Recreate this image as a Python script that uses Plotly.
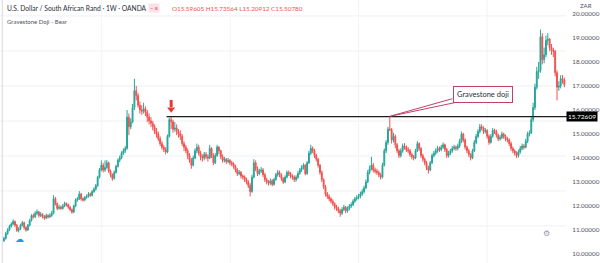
import plotly.graph_objects as go

# Weekly USD/ZAR candles
close_ = [10.65,10.85,11.0,11.15,11.25,11.35,11.2,10.98,11.05,11.2,
11.3,11.1,11.0,11.2,11.4,11.6,11.55,11.7,11.75,11.6,
11.65,11.55,11.5,11.6,11.55,11.6,11.7,12.3,12.1,11.9,
11.95,11.9,12.0,12.1,12.05,11.95,11.85,11.75,12.0,12.25,
12.3,12.5,12.3,12.25,12.35,12.4,12.5,12.45,12.6,12.7,
12.85,13.2,13.5,13.7,13.5,13.6,13.8,13.45,13.3,13.15,
13.4,13.65,13.9,14.0,14.2,14.3,14.4,15.7,15.3,15.5,
16.1,16.8,16.6,16.2,16.0,15.95,16.05,15.9,15.7,15.55,
15.45,15.3,15.1,15.0,14.8,14.6,14.45,14.35,14.25,14.9,
15.6,15.51,15.2,15.25,15.1,15.0,14.9,14.6,14.45,14.3,
14.1,13.9,13.7,14.0,14.3,14.45,14.2,14.05,14.0,14.15,
14.05,14.0,14.4,14.1,13.8,14.1,14.45,14.3,14.05,13.9,
13.95,13.85,13.9,13.8,13.75,13.65,13.5,13.35,13.4,13.25,
13.2,13.1,13.0,12.85,12.6,13.2,13.8,13.55,13.35,13.45,
13.5,13.3,13.1,13.0,12.95,13.05,12.9,13.1,13.3,13.4,
13.3,13.15,13.0,13.2,13.4,13.35,13.25,13.2,13.1,13.2,
13.35,13.5,13.6,13.7,13.35,13.8,14.2,14.4,14.3,14.1,
13.95,13.7,13.4,13.1,12.8,12.5,12.4,12.3,12.2,12.1,
11.95,11.9,11.8,11.7,11.85,11.95,11.8,11.9,12.0,12.05,
12.2,12.3,12.35,12.4,12.5,12.6,12.75,13.0,13.4,13.55,
13.7,13.5,13.45,13.4,13.3,13.2,13.7,14.3,14.65,15.2,
15.18,14.75,14.9,14.55,14.3,14.1,14.3,14.5,14.45,14.35,
14.3,14.15,14.05,14.0,14.3,14.6,14.4,14.1,13.95,13.8,
13.6,13.5,13.8,14.1,14.2,14.3,14.4,14.35,14.45,14.55,
14.35,14.1,14.2,14.3,14.4,14.45,14.4,14.5,14.7,15.0,
14.75,14.45,14.3,14.15,14.0,14.3,14.65,14.9,15.1,15.3,
15.25,15.1,15.15,14.9,14.65,14.9,15.15,15.1,14.95,14.8,
14.85,15.0,14.9,14.8,14.75,14.6,14.4,14.3,14.2,14.1,
14.25,14.4,14.5,14.45,14.7,15.0,15.05,15.6,16.1,16.95,
17.6,17.65,19.05,18.1,18.3,18.9,18.95,18.6,18.5,18.45,
17.55,16.95,17.0,17.3,17.25,17.05]

open_ = [10.55,10.65,10.85,11.0,11.15,11.25,11.35,11.2,10.98,11.05,
11.2,11.3,11.1,11.0,11.2,11.4,11.6,11.55,11.7,11.75,
11.6,11.65,11.55,11.5,11.6,11.55,11.6,11.7,12.3,12.1,
11.9,11.95,11.9,12.0,12.1,12.05,11.95,11.85,11.75,12.0,
12.25,12.3,12.5,12.3,12.25,12.35,12.4,12.5,12.45,12.6,
12.7,12.85,13.2,13.5,13.7,13.5,13.6,13.8,13.45,13.3,
13.15,13.4,13.65,13.9,14.0,14.2,14.3,14.4,15.7,15.3,
15.5,16.1,16.8,16.6,16.2,16.0,15.95,16.05,15.9,15.7,
15.55,15.45,15.3,15.1,15.0,14.8,14.6,14.45,14.35,14.25,
14.9,15.59605,15.51,15.2,15.25,15.1,15.0,14.9,14.6,14.45,
14.3,14.1,13.9,13.7,14.0,14.3,14.45,14.2,14.05,14.0,
14.15,14.05,14.0,14.4,14.1,13.8,14.1,14.45,14.3,14.05,
13.9,13.95,13.85,13.9,13.8,13.75,13.65,13.5,13.35,13.4,
13.25,13.2,13.1,13.0,12.85,12.6,13.2,13.8,13.55,13.35,
13.45,13.5,13.3,13.1,13.0,12.95,13.05,12.9,13.1,13.3,
13.4,13.3,13.15,13.0,13.2,13.4,13.35,13.25,13.2,13.1,
13.2,13.35,13.5,13.6,13.7,13.35,13.8,14.2,14.4,14.3,
14.1,13.95,13.7,13.4,13.1,12.8,12.5,12.4,12.3,12.2,
12.1,11.95,11.9,11.8,11.7,11.85,11.95,11.8,11.9,12.0,
12.05,12.2,12.3,12.35,12.4,12.5,12.6,12.75,13.0,13.4,
13.55,13.7,13.5,13.45,13.4,13.3,13.2,13.7,14.3,14.65,
15.2,15.18,14.75,14.9,14.55,14.3,14.1,14.3,14.5,14.45,
14.35,14.3,14.15,14.05,14.0,14.3,14.6,14.4,14.1,13.95,
13.8,13.6,13.5,13.8,14.1,14.2,14.3,14.4,14.35,14.45,
14.55,14.35,14.1,14.2,14.3,14.4,14.45,14.4,14.5,14.7,
15.0,14.75,14.45,14.3,14.15,14.0,14.3,14.65,14.9,15.1,
15.3,15.25,15.1,15.15,14.9,14.65,14.9,15.15,15.1,14.95,
14.8,14.85,15.0,14.9,14.8,14.75,14.6,14.4,14.3,14.2,
14.1,14.25,14.4,14.5,14.45,14.7,15.0,15.05,15.6,16.1,
16.95,17.6,17.65,19.05,18.1,18.3,18.9,18.95,18.6,18.5,
18.45,17.55,16.95,17.0,17.3,17.25]

high_ = [10.72,10.92,11.08,11.22,11.32,11.45,11.4,11.25,11.12,11.26,
11.38,11.35,11.15,11.25,11.46,11.66,11.68,11.78,11.86,11.8,
11.75,11.7,11.62,11.68,11.66,11.7,11.8,12.45,12.38,12.15,
12.05,12.02,12.08,12.18,12.15,12.1,12.0,11.9,12.06,12.32,
12.38,12.62,12.55,12.36,12.42,12.48,12.58,12.56,12.66,12.78,
12.92,13.26,13.58,13.9,13.8,13.9,13.92,13.85,13.52,13.36,
13.48,13.72,13.98,14.1,14.28,14.4,14.5,16.0,15.85,15.65,
16.25,17.3,17.0,16.7,16.35,16.2,16.3,16.15,16.0,15.85,
15.7,15.55,15.4,15.25,15.1,14.9,14.7,14.55,14.45,14.98,
15.68,15.73564,15.6,15.5,15.4,15.2,15.15,15.0,14.7,14.55,
14.4,14.2,14.0,14.1,14.4,14.6,14.55,14.3,14.15,14.25,
14.25,14.15,14.55,14.45,14.2,14.2,14.55,14.5,14.35,14.15,
14.05,14.0,14.0,13.95,13.88,13.82,13.72,13.58,13.5,13.46,
13.32,13.28,13.18,13.08,12.95,13.3,13.95,13.9,13.65,13.55,
13.62,13.58,13.38,13.18,13.08,13.15,13.12,13.18,13.38,13.5,
13.48,13.36,13.2,13.28,13.48,13.48,13.42,13.32,13.28,13.28,
13.45,13.58,13.7,13.78,13.75,13.88,14.3,14.55,14.48,14.38,
14.18,14.0,13.75,13.48,13.15,12.88,12.58,12.48,12.36,12.28,
12.15,12.05,11.98,11.88,11.95,12.05,12.0,11.98,12.08,12.15,
12.28,12.38,12.45,12.5,12.6,12.7,12.85,13.1,13.5,13.68,
14.05,13.8,13.6,13.55,13.48,13.38,13.8,14.4,14.75,15.3,
15.736,15.25,15.05,14.98,14.62,14.38,14.4,14.6,14.62,14.52,
14.45,14.38,14.22,14.12,14.38,14.7,14.65,14.45,14.18,14.02,
13.88,13.68,13.88,14.18,14.3,14.4,14.5,14.48,14.55,14.65,
14.6,14.42,14.3,14.38,14.5,14.55,14.52,14.6,14.8,15.1,
15.05,14.82,14.52,14.38,14.2,14.38,14.75,15.0,15.2,15.42,
15.4,15.32,15.25,15.2,14.98,15.0,15.25,15.22,15.18,15.02,
14.95,15.1,15.05,14.98,14.88,14.82,14.68,14.48,14.36,14.28,
14.35,14.5,14.6,14.58,14.8,15.1,15.15,15.75,16.3,17.1,
17.8,18.0,19.35,19.2,18.6,19.1,19.2,19.0,18.75,18.6,
18.5,17.65,17.2,17.45,17.45,17.35]

low_ = [10.5,10.6,10.8,10.95,11.1,11.2,11.12,10.92,10.9,11.0,
11.15,11.02,10.93,10.96,11.15,11.35,11.48,11.5,11.62,11.52,
11.54,11.48,11.42,11.45,11.48,11.5,11.55,11.65,12.02,11.82,
11.85,11.84,11.85,11.95,11.98,11.88,11.78,11.68,11.7,11.95,
12.18,12.25,12.22,12.18,12.2,12.3,12.35,12.38,12.4,12.55,
12.65,12.8,13.15,13.45,13.4,13.42,13.55,13.38,13.2,13.05,
13.1,13.35,13.6,13.82,13.95,14.12,14.2,14.35,14.95,15.2,
15.45,16.0,16.4,16.1,15.85,15.8,15.85,15.75,15.5,15.4,
15.3,15.15,15.0,14.85,14.7,14.5,14.35,14.25,14.15,14.2,
14.85,15.20912,15.05,15.1,14.95,14.85,14.75,14.5,14.3,14.2,
13.95,13.8,13.55,13.65,13.95,14.2,14.1,13.9,13.85,13.9,
13.95,13.85,13.95,14.0,13.7,13.75,14.05,14.15,13.95,13.8,
13.82,13.75,13.78,13.7,13.65,13.55,13.4,13.25,13.28,13.15,
13.1,13.0,12.9,12.75,12.4,12.55,13.15,13.45,13.25,13.28,
13.38,13.2,13.0,12.9,12.85,12.88,12.82,12.85,13.05,13.22,
13.2,13.05,12.92,12.95,13.15,13.25,13.15,13.1,13.0,13.02,
13.12,13.3,13.42,13.52,13.28,13.3,13.75,14.12,14.2,14.0,
13.85,13.6,13.3,13.0,12.7,12.4,12.3,12.2,12.1,12.0,
11.85,11.8,11.7,11.55,11.62,11.78,11.7,11.72,11.82,11.92,
12.0,12.12,12.22,12.28,12.32,12.42,12.52,12.7,12.95,13.32,
13.48,13.4,13.35,13.3,13.2,13.1,13.15,13.65,14.2,14.55,
15.12,14.6,14.65,14.4,14.2,14.0,14.02,14.22,14.35,14.25,
14.2,14.05,13.95,13.9,13.95,14.25,14.3,14.0,13.85,13.7,
13.5,13.35,13.45,13.75,14.02,14.12,14.22,14.25,14.28,14.38,
14.25,14.0,14.02,14.12,14.22,14.32,14.3,14.32,14.42,14.62,
14.65,14.35,14.2,14.05,13.9,13.95,14.25,14.58,14.82,15.02,
15.15,15.0,15.02,14.8,14.55,14.6,14.85,15.0,14.85,14.7,
14.72,14.78,14.8,14.7,14.65,14.5,14.3,14.2,14.1,14.0,
14.02,14.18,14.32,14.35,14.4,14.62,14.9,15.0,15.5,16.0,
16.85,17.3,17.55,17.9,17.95,18.2,18.7,18.45,18.3,18.2,
17.4,16.4,16.8,16.9,17.1,16.95]

weeks = list(range(len(close_)))

y_ticks = [10, 11, 12, 13, 14, 15, 16, 17, 18, 19, 20]
level_price = 15.72609
level_start = 88.5
doji_week = 210
arrow_week = 91

UP = "#26a69a"
DOWN = "#ef5350"
ARROW = "#e53935"

fig = go.Figure()
fig.add_trace(go.Candlestick(
    x=weeks, open=open_, high=high_, low=low_, close=close_,
    increasing=dict(line=dict(color=UP, width=1), fillcolor=UP),
    decreasing=dict(line=dict(color=DOWN, width=1), fillcolor=DOWN),
    whiskerwidth=0, showlegend=False, hoverinfo="skip"))

# arrow head marker above the marked candle
fig.add_trace(go.Scatter(x=[arrow_week], y=[16.03], mode="markers",
                         marker=dict(symbol="triangle-down", size=7, color=ARROW),
                         showlegend=False, hoverinfo="skip"))

shapes = []
# faint grid
for gy in [11.17, 12.63, 14.08, 15.54, 17.0, 18.46, 19.92]:
    shapes.append(dict(type="line", xref="paper", x0=0, x1=1, yref="y", y0=gy, y1=gy,
                       line=dict(color="#eef0f4", width=1), layer="below"))
for gx in [53.2, 123.1, 193.0, 263.0]:
    shapes.append(dict(type="line", xref="x", x0=gx, x1=gx, yref="paper", y0=0, y1=1,
                       line=dict(color="#f1f3f6", width=1), layer="below"))
# left border
shapes.append(dict(type="line", xref="paper", x0=0.004, x1=0.004, yref="paper", y0=0, y1=1,
                   line=dict(color="#d6d8dd", width=1)))
# arrow stem
shapes.append(dict(type="line", xref="x", yref="y", x0=arrow_week, x1=arrow_week, y0=16.12, y1=16.42,
                   line=dict(color=ARROW, width=3)))
# horizontal level line
shapes.append(dict(type="line", xref="x", x0=level_start, yref="y", y0=level_price,
                   x1=305.9, y1=level_price, line=dict(color="#1e1e1e", width=1.3)))
shapes.append(dict(type="line", xref="paper", x0=1, x1=1.05, yref="y", y0=level_price, y1=level_price,
                   line=dict(color="#1e1e1e", width=1.3)))
# callout lines
CALL = "#c2416b"
shapes.append(dict(type="line", xref="x", yref="y", x0=doji_week, y0=15.736, x1=244.0, y1=16.47,
                   line=dict(color=CALL, width=1)))
shapes.append(dict(type="line", xref="x", yref="y", x0=doji_week, y0=15.736, x1=247.5, y1=16.34,
                   line=dict(color=CALL, width=1)))

annotations = [
    dict(xref="paper", yref="paper", x=0.009, y=1 - 8/263, xanchor="left", yanchor="middle",
         text="U.S. Dollar / South African Rand · 1W · OANDA", showarrow=False,
         font=dict(size=6.7, color="#2a2e39", family="Lato")),
    dict(xref="paper", yref="paper", x=150/573, y=1 - 8/263, xanchor="left", yanchor="middle",
         text="− ≡", showarrow=False, bgcolor="#fbe0e6",
         font=dict(size=5.5, color="#e0405e", family="Lato")),
    dict(xref="paper", yref="paper", x=172/573, y=1 - 8/263, xanchor="left", yanchor="middle",
         text="O15.59605 H15.73564 L15.20912 C15.50780", showarrow=False,
         font=dict(size=6.3, color=DOWN, family="Lato")),
    dict(xref="paper", yref="paper", x=0.009, y=1 - 21/263, xanchor="left", yanchor="middle",
         text="Gravestone Doji - Bear", showarrow=False,
         font=dict(size=6, color="#50535e", family="Lato")),
    dict(xref="paper", yref="paper", x=1.022, y=1 - 6/263, xanchor="left", yanchor="middle",
         text="ZAR", showarrow=False, font=dict(size=6, color="#50535e", family="Lato")),
    dict(xref="paper", yref="y", x=1.0, y=level_price, xanchor="left", yanchor="middle",
         text="15.72609", showarrow=False, bgcolor="#000000", borderpad=1,
         font=dict(size=6.5, color="#ffffff", family="Lato")),
    dict(xref="x", yref="y", x=260.5, y=16.63, text="Gravestone doji", showarrow=False,
         bgcolor="#ffffff", bordercolor=CALL, borderwidth=1, borderpad=3,
         font=dict(size=7.5, color="#2a2e39", family="Lato")),
    dict(xref="paper", yref="paper", x=13/573, y=1 - 247/263, showarrow=False, text="☁",
         font=dict(size=9, color="#2196f3")),
    dict(xref="paper", yref="paper", x=559/573, y=1 - 240/263, showarrow=False, text="⚙",
         font=dict(size=8, color="#9598a1")),
]

fig.update_layout(
    width=600, height=263,
    margin=dict(l=0, r=27, t=0, b=0),
    paper_bgcolor="#ffffff", plot_bgcolor="#ffffff",
    xaxis=dict(range=[-2.15, 305.9], visible=False, rangeslider=dict(visible=False)),
    yaxis=dict(range=[9.625, 20.583], side="right", tickvals=y_ticks,
               ticktext=[f"{v:.5f}" for v in y_ticks], showgrid=False, zeroline=False,
               ticks="outside", ticklen=4, tickcolor="#ffffff",
               tickfont=dict(size=6.3, color="#50535e", family="Lato")),
    shapes=shapes, annotations=annotations, showlegend=False,
)

fig.write_html("out.html")
